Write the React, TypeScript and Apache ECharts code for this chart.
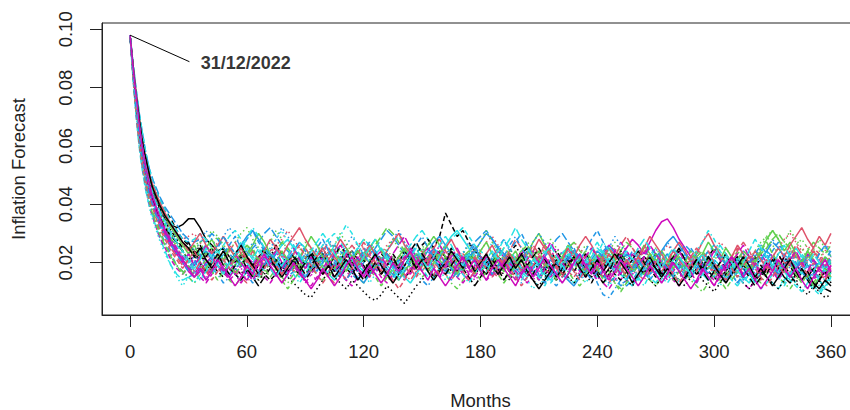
import React, { useEffect, useRef } from "react";
import * as echarts from "echarts";

// Forecast horizon (months) at which the paths are sampled
const months = [
  0, 1, 2, 3, 4, 5, 6, 7, 8, 9, 10, 11, 12,
  15, 18, 21, 24, 27, 30, 33, 36, 39, 42, 45, 48, 51, 54, 57, 60, 63, 66, 69, 72, 75, 78, 81, 84, 87, 90, 93, 96, 99,
  102, 105, 108, 111, 114, 117, 120, 123, 126, 129, 132, 135, 138, 141, 144, 147, 150, 153, 156, 159, 162, 165, 168, 171, 174, 177, 180, 183, 186,
  189, 192, 195, 198, 201, 204, 207, 210, 213, 216, 219, 222, 225, 228, 231, 234, 237, 240, 243, 246, 249, 252, 255, 258, 261, 264, 267, 270, 273,
  276, 279, 282, 285, 288, 291, 294, 297, 300, 303, 306, 309, 312, 315, 318, 321, 324, 327, 330, 333, 336, 339, 342, 345, 348, 351, 354, 357, 360,
];

const xTicks = [0, 60, 120, 180, 240, 300, 360];
const yTicks = [0.02, 0.04, 0.06, 0.08, 0.1];
const xTitle = "Months";
const yTitle = "Inflation Forecast";
const annotationLabel = "31/12/2022";
const annotationFrom = [0, 0.098];
const annotationTo = [30.5, 0.0889];
const annotationTextAt = [36, 0.0883];

// Simulated inflation paths, values in thousandths (0.001)
const path01 = [98,91,84,77,71,66,61,57,54,51,48,46,44,
  39,35,33,32,33,35,35,32,28,26,24,25,22,20,23,21,19,22,24,21,18,20,17,19,22,20,18,21,23,
  20,17,19,22,24,21,19,16,18,21,23,20,18,15,17,20,22,19,21,24,22,19,17,20,23,21,18,16,19,
  22,20,17,19,23,25,22,19,16,18,21,19,22,24,21,18,20,17,15,18,21,23,20,17,19,22,20,18,16,
  19,22,24,21,18,16,19,21,18,15,17,20,22,19,17,14,16,19,21,18,15,13,16,18,15,12,14,11,10];
const path02 = [98,90,82,75,69,63,58,54,50,47,44,42,40,
  35,31,28,25,22,20,21,23,19,17,20,22,25,23,20,18,16,19,21,24,26,23,21,19,17,20,18,22,24,
  27,24,21,19,22,20,17,15,18,20,23,21,19,22,25,22,20,18,16,19,21,18,20,23,21,24,22,19,17,
  15,18,20,22,19,17,20,23,26,24,21,19,17,15,18,21,19,22,20,18,21,24,22,19,17,20,18,16,19,
  21,24,22,19,17,20,23,21,18,16,19,22,25,23,20,18,21,19,17,20,22,24,21,19,22,25,23,20,22];
const path03 = [98,91,85,79,73,68,63,59,56,53,50,48,46,
  41,37,33,30,27,25,26,27,28,31,29,26,24,27,30,32,28,25,23,21,24,22,19,21,24,27,25,22,20,
  18,21,23,20,22,25,28,26,23,21,24,22,19,17,20,22,25,27,24,21,19,22,20,23,26,24,21,18,20,
  23,21,19,22,24,27,25,22,20,17,19,22,24,21,23,26,24,21,19,22,25,23,20,18,21,24,22,19,21,
  18,16,14,17,19,22,20,18,21,23,20,17,15,18,21,24,27,29,31,28,25,23,26,28,25,22,24,21,19];
const path04 = [98,89,81,73,66,60,55,51,47,44,41,38,36,
  31,27,23,19,17,15,16,19,21,18,16,13,15,18,20,17,15,18,21,23,20,18,15,17,19,22,24,21,19,
  17,20,22,19,16,14,17,19,22,20,17,15,18,21,19,16,14,12,15,18,20,22,19,17,20,23,21,18,16,
  19,21,18,15,13,15,18,20,17,14,12,15,17,20,23,21,18,13,9,8,11,14,12,14,17,19,16,18,21,
  23,20,18,16,19,22,20,17,15,18,21,19,16,14,17,20,22,19,17,15,13,16,19,21,18,16,19,22,20];
const path05 = [98,88,79,71,64,58,53,49,45,42,39,37,35,
  29,24,19,16,14,15,17,20,18,16,19,21,18,16,14,17,20,23,25,22,20,18,21,24,27,25,22,19,17,
  20,18,16,19,22,25,28,26,23,21,19,17,20,23,26,29,31,28,25,22,20,18,16,19,21,24,22,20,18,
  16,19,22,20,17,15,18,21,24,22,19,17,15,13,16,19,22,25,23,20,18,16,14,17,20,18,15,13,16,
  19,22,20,17,15,13,16,18,21,19,17,14,12,15,18,20,17,15,13,11,14,16,19,17,14,12,10,13,15];
const path06 = [98,90,82,75,69,64,59,55,51,48,45,43,41,
  35,30,26,23,20,17,15,17,20,22,19,17,15,18,16,14,17,19,22,20,18,16,19,21,18,15,17,20,22,
  19,17,20,23,21,18,16,19,22,24,21,19,17,15,18,20,23,25,22,20,18,21,19,16,14,17,20,22,19,
  17,20,23,21,18,16,19,22,20,17,15,18,21,24,22,19,17,20,23,26,24,22,25,28,26,23,27,31,34,
  35,32,28,25,22,20,18,21,19,17,20,22,19,16,18,21,23,20,18,16,19,21,18,20,23,21,18,16,19];
const path07 = [98,91,85,79,74,69,65,61,57,54,51,49,47,
  42,38,35,31,28,26,24,22,21,19,17,15,18,16,14,17,20,18,16,14,16,19,21,18,16,14,17,19,22,
  19,17,15,18,16,19,21,18,20,23,21,19,22,24,21,23,26,28,25,29,37,33,29,31,27,24,22,20,21,
  22,19,17,20,18,16,19,21,18,16,14,17,20,22,19,17,15,18,21,19,16,14,17,19,22,20,18,15,17,
  20,22,19,17,15,18,20,17,15,13,16,19,21,18,16,14,17,20,18,16,19,22,19,17,15,18,16,14,17];
const path08 = [98,90,83,77,71,66,62,58,55,52,49,47,45,
  40,36,33,30,28,29,30,27,22,24,27,29,26,23,21,24,22,19,21,23,26,28,31,28,25,23,21,24,26,
  23,21,19,22,24,27,25,22,20,23,26,28,30,27,24,22,20,18,21,23,25,22,20,17,19,22,24,27,29,
  26,23,21,19,22,24,21,19,17,20,23,21,24,27,25,22,20,18,21,23,20,18,16,19,21,24,22,20,23,
  26,24,21,19,22,20,18,21,24,27,25,22,20,23,21,19,17,20,22,25,28,30,27,24,26,23,21,24,27];
const path09 = [98,89,81,74,67,61,56,52,48,45,42,39,37,
  31,26,22,19,17,15,13,16,18,21,19,17,14,12,15,18,16,14,17,20,18,15,13,16,19,21,18,16,14,
  17,19,22,20,17,15,13,16,19,17,14,16,19,22,20,18,15,17,20,18,16,13,11,14,17,19,21,18,16,
  19,17,15,18,21,19,16,14,17,20,22,19,17,14,12,15,18,20,17,15,13,11,14,17,19,16,14,12,15,
  18,21,19,17,14,12,10,13,16,19,17,15,18,20,17,15,13,16,18,15,13,11,14,17,15,13,16,18,16];
const path10 = [98,92,86,80,75,70,66,62,58,55,52,50,48,
  43,39,36,33,30,28,27,28,27,30,28,25,23,21,19,22,25,27,30,32,29,26,24,22,20,23,21,18,20,
  23,26,24,21,19,17,20,23,25,28,31,29,26,23,21,19,22,24,21,19,17,20,23,21,24,27,29,31,28,
  25,23,20,18,21,24,22,19,22,25,28,30,27,24,22,20,18,21,24,26,23,21,19,17,20,22,25,23,20,
  18,21,23,26,24,21,19,22,20,17,15,18,21,24,22,19,21,24,27,25,22,20,18,21,23,20,18,21,24];
const path11 = [98,90,83,76,70,64,59,55,51,48,45,42,40,
  35,30,27,24,22,20,22,24,26,23,21,18,16,19,22,20,17,15,18,21,23,26,28,25,22,20,18,21,19,
  16,14,17,20,22,19,17,20,23,25,22,19,17,15,13,16,19,21,24,22,26,29,31,28,25,22,20,18,21,
  24,22,19,17,15,18,21,19,16,14,17,20,23,21,18,16,19,22,24,21,19,16,14,12,15,18,21,19,17,
  15,18,20,23,21,18,16,14,17,20,22,19,17,15,13,16,18,21,19,17,20,23,25,22,19,17,20,18,16];
const path12 = [98,89,80,72,65,59,54,50,46,43,40,37,35,
  29,25,21,18,16,18,17,15,13,16,19,17,14,16,19,22,20,17,15,13,16,18,21,19,16,14,12,15,18,
  21,19,16,14,12,15,17,20,18,15,13,16,19,22,20,17,19,22,25,23,20,18,15,13,16,19,17,14,16,
  19,22,20,17,15,13,16,19,21,18,16,19,22,20,17,15,18,16,13,11,14,17,20,18,15,17,20,22,19,
  17,14,12,15,18,21,19,16,14,17,20,18,15,13,11,14,17,19,22,20,17,15,18,21,19,16,14,17,15];
const path13 = [98,90,83,76,70,65,60,56,52,49,46,44,42,
  37,33,30,27,24,21,22,20,16,18,21,23,20,18,16,19,17,14,16,19,21,18,15,13,11,9,8,11,14,
  17,15,13,11,14,12,10,8,7,9,12,10,8,6,9,12,14,17,15,18,20,17,19,22,20,18,16,19,21,
  18,16,14,17,19,16,14,12,15,18,20,17,15,13,16,19,17,15,18,21,19,16,14,12,15,17,14,12,15,
  18,16,14,12,15,17,14,12,10,13,16,18,15,13,11,14,17,15,13,11,14,16,13,11,9,12,10,8,9];
const path14 = [98,91,84,78,72,67,62,58,54,51,48,46,44,
  39,35,32,29,27,25,23,24,23,20,18,16,19,17,15,13,16,19,21,18,20,23,21,19,17,15,18,20,17,
  15,13,16,19,21,24,22,20,18,16,19,21,18,16,14,17,19,22,20,18,16,14,17,20,22,25,23,20,18,
  21,19,17,15,18,20,23,21,18,16,19,21,24,22,19,17,20,18,15,13,16,19,21,18,16,14,17,19,22,
  20,18,16,19,21,24,22,19,17,15,18,20,23,21,18,16,14,17,19,22,20,17,15,18,21,24,22,19,21];
const path15 = [98,90,82,75,69,63,58,54,50,47,44,42,40,
  35,31,28,26,24,25,23,21,23,25,22,20,18,21,23,26,24,21,19,22,24,27,25,22,20,18,21,19,17,
  20,22,25,23,20,18,21,24,26,29,32,30,27,24,22,20,18,21,23,21,18,16,19,22,24,21,19,17,20,
  22,25,23,21,24,26,23,21,19,17,20,22,25,27,24,22,20,23,21,19,22,24,27,25,22,20,23,21,19,
  17,20,23,21,19,22,24,21,19,17,15,18,21,24,22,20,23,25,28,30,27,25,22,20,24,27,25,23,26];
const path16 = [98,91,83,76,70,65,60,56,52,49,46,43,41,
  36,31,27,24,21,18,19,22,24,21,19,17,20,23,26,29,31,28,25,23,21,19,22,20,17,15,18,21,23,
  20,18,16,19,17,15,13,16,19,21,18,16,14,17,20,23,21,24,27,29,26,23,21,19,22,24,27,30,28,
  25,23,21,18,16,19,17,15,18,21,19,16,14,12,15,18,21,24,22,19,17,20,23,21,18,16,19,22,24,
  27,29,26,23,21,19,17,20,18,16,14,17,20,18,16,19,21,24,22,19,17,15,18,21,19,17,15,18,20];
const path17 = [98,92,86,80,75,70,66,62,58,55,52,49,47,
  42,38,34,31,28,27,28,30,28,25,23,26,29,31,28,25,22,20,18,21,24,22,19,17,15,18,20,23,26,
  28,30,27,24,22,25,23,20,18,21,24,27,29,26,23,21,19,17,20,22,25,28,30,32,29,26,24,22,20,
  18,21,19,16,14,17,20,18,15,13,16,19,22,24,21,19,17,15,18,21,23,20,18,16,14,17,19,17,15,
  13,16,19,17,15,18,21,24,26,23,20,18,15,13,16,14,11,13,16,19,17,14,12,10,13,11,9,12,14];
const path18 = [98,89,82,75,68,62,57,53,49,46,43,41,39,
  34,30,26,23,21,23,21,19,22,24,21,19,17,20,18,16,14,17,20,22,25,23,20,18,21,19,16,14,17,
  19,22,20,17,15,18,21,23,20,18,21,19,16,14,17,19,22,20,18,15,17,20,22,19,17,14,16,19,21,
  24,22,19,21,18,16,14,17,20,22,25,23,20,18,16,19,21,18,16,14,17,15,13,16,19,21,18,16,19,
  21,18,16,14,17,19,22,20,17,15,13,16,18,21,19,16,18,21,23,20,18,16,19,17,15,18,21,19,17];
const path19 = [98,90,83,77,71,66,61,57,53,50,47,45,43,
  38,34,31,28,25,27,23,26,22,25,21,24,20,23,19,22,18,21,25,22,26,23,19,22,18,21,24,20,23,
  19,22,26,23,20,24,21,17,20,16,19,23,20,24,21,18,22,19,15,18,21,25,22,19,23,20,17,21,18,
  22,19,23,26,22,19,16,20,17,21,24,21,18,22,19,16,13,17,20,17,21,24,20,23,19,16,20,23,19,
  16,20,17,14,18,21,18,22,25,21,18,22,19,15,19,22,19,16,20,23,19,16,13,17,20,17,14,18,15];
const path20 = [98,89,81,74,68,62,57,53,49,46,43,41,39,
  33,29,25,22,19,21,17,20,16,19,23,20,24,27,23,20,24,21,18,22,19,16,20,17,21,25,22,18,21,
  25,22,19,23,26,23,27,24,20,17,21,18,22,19,16,20,24,21,25,28,24,21,18,22,19,16,20,23,20,
  17,21,24,28,25,22,26,23,19,22,18,15,19,22,19,23,20,17,21,25,22,26,29,25,22,19,23,20,17,
  20,24,21,18,22,25,22,19,16,20,23,20,24,27,24,20,17,21,18,15,19,22,26,23,20,24,21,18,22];
const path21 = [98,91,84,78,72,67,62,58,55,52,49,47,45,
  40,36,32,29,26,23,26,22,25,28,24,21,25,22,19,23,26,30,27,23,20,24,21,18,22,25,29,26,22,
  19,23,20,17,21,24,21,25,28,24,21,18,22,25,22,19,23,26,29,26,22,19,16,20,23,20,24,27,23,
  20,17,21,24,20,23,27,30,26,23,19,22,26,23,20,17,21,18,22,25,21,18,15,19,22,26,23,20,24,
  21,18,22,19,16,20,23,27,24,21,25,22,18,21,17,20,24,28,31,28,24,27,23,20,24,21,18,22,20];
const path22 = [98,90,82,75,69,63,58,54,50,47,44,42,40,
  34,30,27,24,21,18,21,17,14,17,20,23,26,29,25,28,31,27,24,20,23,19,16,19,22,18,21,25,28,
  24,21,18,21,24,20,23,26,22,19,15,18,21,17,20,23,19,22,25,21,18,14,17,20,23,26,22,19,22,
  25,28,24,27,30,26,22,19,22,18,15,18,22,25,21,24,28,31,27,23,20,17,20,24,21,17,14,17,20,
  23,19,22,18,15,18,21,24,20,17,20,16,13,16,19,22,25,21,24,27,23,20,16,19,22,19,23,26,22];
const path23 = [98,89,80,72,65,59,54,49,45,42,39,36,34,
  28,23,19,15,12,15,13,16,19,16,20,23,20,17,21,18,14,17,21,24,28,31,27,24,20,23,19,22,18,
  15,18,22,19,16,20,17,13,16,20,23,20,16,19,23,26,22,19,15,18,14,17,21,24,21,17,20,23,27,
  24,20,17,21,18,14,11,14,17,20,17,21,24,20,17,13,16,19,15,12,15,18,22,19,15,18,21,17,14,
  17,21,18,14,17,20,23,19,16,12,15,18,21,17,14,18,21,24,20,17,14,17,13,10,13,16,12,15,18];
const path24 = [98,91,83,77,71,65,60,56,52,49,46,43,41,
  36,32,28,25,22,19,16,19,15,18,21,17,20,16,13,16,19,22,18,21,24,20,17,14,17,13,16,19,22,
  18,15,18,14,17,20,23,19,16,20,17,13,16,19,16,20,23,19,22,26,23,20,17,20,16,19,22,18,15,
  18,21,17,20,24,21,17,14,18,15,18,21,25,22,18,21,17,14,17,20,24,27,24,21,25,22,18,21,17,
  14,17,20,16,19,22,18,15,12,15,18,21,17,20,23,20,16,19,15,18,22,19,16,20,17,14,17,20,16];
const path25 = [98,90,82,76,70,64,59,55,51,48,45,43,41,
  36,32,29,27,24,21,24,20,17,20,23,19,16,19,22,18,15,12,15,18,21,17,20,23,19,16,19,22,25,
  21,18,21,24,20,17,14,17,20,16,19,22,18,21,24,27,23,20,23,19,16,19,22,18,15,12,15,18,21,
  18,14,17,20,23,19,22,25,21,18,15,18,21,17,20,23,20,16,13,16,19,22,18,21,24,20,17,20,16,
  19,22,25,21,18,21,17,14,17,20,23,19,22,18,15,12,15,18,21,18,22,19,15,18,14,11,14,17,13];
const path26 = [98,91,85,79,73,68,63,59,56,53,50,48,46,
  41,37,33,30,27,24,27,30,26,23,26,29,25,22,25,21,18,21,24,28,25,22,26,29,32,28,25,22,25,
  21,24,28,25,22,19,22,26,23,20,24,27,30,26,23,20,17,20,24,21,25,28,24,21,18,22,19,23,26,
  22,19,23,20,17,21,24,28,25,22,18,21,25,22,26,29,26,22,19,23,20,17,21,18,22,25,29,26,23,
  20,24,27,24,20,23,27,30,26,23,19,22,26,23,20,24,21,18,22,25,22,26,29,32,28,25,29,26,30];
const path27 = [98,89,80,73,66,60,55,51,47,44,41,38,36,
  30,26,22,19,16,19,15,18,21,17,14,17,20,16,19,22,25,21,18,15,18,14,11,14,17,20,17,21,18,
  15,18,21,25,22,19,22,18,15,12,15,18,14,17,20,23,20,17,20,24,21,18,15,18,21,17,14,17,20,
  16,13,16,19,22,18,21,24,20,17,14,17,20,17,21,24,21,18,14,17,13,10,13,16,19,16,20,23,20,
  17,14,17,20,24,21,18,21,17,14,11,14,17,20,17,21,24,27,23,20,17,20,16,13,16,12,15,18,15];
const path28 = [98,90,83,77,71,66,61,57,53,50,47,45,43,
  38,34,31,28,30,27,24,27,31,28,25,29,32,29,26,23,27,24,21,25,28,32,29,26,22,19,23,20,24,
  28,25,22,26,29,26,23,20,17,21,24,28,31,27,24,21,25,22,18,22,25,22,19,23,27,24,21,18,22,
  25,22,19,16,20,23,27,30,27,23,20,24,21,17,14,17,21,18,22,25,29,26,23,20,23,19,16,20,23,
  27,24,20,17,21,24,20,23,26,22,19,16,19,23,20,17,21,24,28,25,21,18,22,19,16,20,23,26,23];
const path29 = [98,91,84,78,72,67,62,58,54,51,48,45,43,
  37,33,29,26,23,20,17,14,17,20,24,21,18,22,25,28,32,29,25,22,19,23,20,16,13,16,20,23,19,
  22,26,29,33,30,26,23,20,24,21,17,14,18,21,25,22,18,15,19,22,26,23,19,16,13,16,20,17,21,
  24,28,25,21,18,22,19,15,12,16,19,23,26,22,19,16,20,23,27,24,20,17,14,18,15,12,16,19,23,
  20,17,13,17,20,24,27,31,28,24,21,18,22,19,16,13,17,21,18,15,12,16,19,23,20,17,14,11,15];
const path30 = [98,90,82,76,70,64,59,55,51,48,45,42,40,
  34,30,26,23,20,23,19,22,26,22,19,16,19,23,20,17,14,17,21,18,15,18,22,25,21,18,22,19,16,
  19,23,26,23,19,22,18,15,18,22,19,23,26,29,25,22,19,22,18,15,19,22,25,21,18,15,18,22,19,
  16,20,17,14,17,21,24,20,23,27,23,20,17,21,18,22,25,22,18,15,19,16,20,23,19,22,26,23,20,
  17,21,24,20,17,13,17,20,24,21,17,20,23,26,22,19,16,20,17,14,18,21,24,20,17,21,18,15,19];
const path31 = [98,91,84,78,73,68,63,59,56,53,50,47,45,
  40,36,33,30,27,25,22,25,21,18,21,24,20,23,26,22,19,16,19,22,18,15,18,21,17,20,23,19,16,
  19,15,18,21,18,14,17,20,23,19,16,13,16,19,22,18,21,17,14,17,20,24,21,18,21,17,20,23,19,
  16,19,22,18,21,17,14,11,14,17,20,16,19,22,18,15,18,21,17,20,23,20,17,13,16,19,22,18,15,
  18,15,12,15,18,21,18,22,19,16,13,16,19,22,19,15,18,15,12,15,18,21,17,14,17,13,11,14,12];
const path32 = [98,89,81,74,67,61,56,52,48,45,42,40,38,
  32,28,24,21,18,21,24,20,17,14,17,21,18,22,25,21,18,15,18,22,19,16,19,23,26,22,19,16,13,
  16,20,17,14,18,21,25,22,18,21,17,14,11,14,18,15,19,22,19,16,20,23,20,17,14,17,21,18,15,
  19,22,18,15,12,15,19,22,26,23,19,16,20,17,14,18,21,18,22,25,22,19,15,18,22,19,16,20,23,
  19,16,13,16,20,17,21,24,20,17,14,18,15,19,22,18,15,12,15,19,16,20,23,19,16,20,17,14,18];
const path33 = [98,90,83,76,70,65,60,56,52,49,46,44,42,
  37,33,30,27,24,21,24,27,23,26,29,25,22,19,22,26,23,20,24,27,31,28,24,21,18,22,25,22,19,
  23,26,30,27,23,20,24,21,18,22,25,28,25,21,18,21,25,22,19,23,26,23,20,17,21,24,27,31,27,
  24,21,24,20,17,21,24,21,25,28,25,22,18,22,19,16,19,23,20,24,27,24,20,17,21,18,22,25,22,
  19,23,20,17,21,24,21,18,22,26,23,20,24,21,18,22,25,29,26,23,27,31,28,25,21,24,28,25,22];
const path34 = [98,89,81,74,68,62,57,53,49,46,43,41,39,
  33,29,26,23,20,17,20,23,19,22,25,29,26,23,19,16,13,16,19,23,20,17,20,24,27,24,20,17,21,
  24,20,17,14,17,21,24,27,24,20,23,19,16,19,22,26,29,25,22,18,21,18,15,18,21,25,22,19,16,
  19,22,26,29,25,22,19,16,13,16,20,17,21,24,20,17,14,17,16,13,15,12,14,18,21,18,22,25,21,
  18,15,18,21,25,22,19,16,20,23,19,16,13,16,20,23,26,23,19,16,19,23,20,17,14,17,21,18,22];
const path35 = [98,90,83,77,71,66,61,57,53,50,47,45,43,
  38,34,30,27,24,21,18,21,25,22,19,16,20,23,27,24,21,25,22,18,15,19,22,26,23,20,24,27,30,
  27,23,20,24,21,18,22,25,28,24,21,18,15,18,22,25,21,18,22,26,29,26,22,19,23,20,17,21,24,
  21,25,28,32,28,25,22,19,23,26,22,19,16,19,23,20,24,27,23,20,17,21,24,21,25,28,25,21,18,
  22,25,22,19,16,20,23,19,22,26,23,20,17,20,24,28,25,22,19,23,26,22,19,16,20,23,20,17,21];
const path36 = [98,91,84,78,72,66,61,57,53,50,47,44,42,
  36,31,27,24,21,18,15,18,14,17,21,18,15,12,15,19,16,20,23,19,16,13,16,20,17,14,11,14,18,
  15,12,15,19,22,18,15,19,16,13,16,20,17,21,24,20,17,14,18,15,12,15,19,22,18,21,17,14,18,
  21,18,15,12,16,19,15,18,22,19,16,13,16,20,23,19,16,20,17,14,17,21,18,15,12,15,19,16,13,
  16,20,17,14,11,14,18,15,12,16,19,22,19,15,18,14,11,14,17,21,18,15,18,14,11,15,18,21,17];

const paths = [
  path01, path02, path03, path04, path05, path06, path07, path08, path09,
  path10, path11, path12, path13, path14, path15, path16, path17, path18,
  path19, path20, path21, path22, path23, path24, path25, path26, path27,
  path28, path29, path30, path31, path32, path33, path34, path35, path36,
];

// R default palette and matplot line types (styles)
const palette = ["#000000", "#DF536B", "#61D04F", "#2297E6", "#28E2E5", "#CD0BBC"];
const dashes: any[] = ["solid", [5, 3], [1.5, 3], [1.5, 3, 5, 3], [8, 3]];

const FONT = "'Liberation Sans', Arial, Helvetica, sans-serif";

export default function App() {
  const ref = useRef<HTMLDivElement>(null);

  useEffect(() => {
    if (!ref.current) return;
    const chart = echarts.init(ref.current, null, { renderer: "svg" });

    const pathSeries = paths.map((p, k) => ({
      type: "line",
      name: "path" + (k + 1),
      data: months.map((m, i) => [m, p[i] / 1000]),
      showSymbol: false,
      symbol: "none",
      silent: true,
      lineStyle: { color: palette[k % palette.length], width: 1.5, type: dashes[k % dashes.length] },
      z: 2,
    }));

    chart.setOption({
      animation: false,
      textStyle: { fontFamily: FONT },
      grid: {
        left: 102,
        top: 23,
        right: -9,
        bottom: 95,
        show: true,
        borderColor: "#222",
        borderWidth: 1,
        backgroundColor: "transparent",
        containLabel: false,
        outerBoundsMode: "none",
      },
      xAxis: {
        type: "value",
        min: -14.4,
        max: 374.4,
        axisLine: { show: true, onZero: false, lineStyle: { color: "#222", width: 1 } },
        splitLine: { show: false },
        axisTick: { show: true, length: 12, lineStyle: { color: "#222" }, customValues: xTicks },
        axisLabel: {
          show: true,
          customValues: xTicks,
          margin: 27,
          fontSize: 18.5,
          color: "#222",
          fontFamily: FONT,
        },
        name: xTitle,
        nameLocation: "middle",
        nameGap: 76,
        nameTextStyle: { fontSize: 18.5, color: "#222", fontFamily: FONT },
      },
      yAxis: {
        type: "value",
        min: 0.00203,
        max: 0.10217,
        axisLine: { show: true, onZero: false, lineStyle: { color: "#222", width: 1 } },
        splitLine: { show: false },
        axisTick: { show: true, length: 12, lineStyle: { color: "#222" }, customValues: yTicks },
        axisLabel: {
          show: true,
          customValues: yTicks,
          rotate: 90,
          margin: 27,
          fontSize: 18.5,
          color: "#222",
          fontFamily: FONT,
          formatter: (v: number) => v.toFixed(2),
        },
        name: yTitle,
        nameLocation: "middle",
        nameGap: 74,
        nameTextStyle: { fontSize: 18.5, color: "#222", fontFamily: FONT },
      },
      series: [
        ...pathSeries,
        {
          type: "line",
          data: [annotationFrom, annotationTo],
          showSymbol: false,
          symbol: "none",
          silent: true,
          lineStyle: { color: "#000", width: 1, type: "solid" },
          z: 5,
        },
        {
          type: "scatter",
          data: [annotationTextAt],
          symbolSize: 1,
          silent: true,
          itemStyle: { color: "transparent" },
          label: {
            show: true,
            position: "right",
            distance: 0,
            formatter: annotationLabel,
            fontSize: 18,
            fontWeight: "bold",
            color: "#000",
            fontFamily: FONT,
          },
          z: 6,
        },
      ],
    });

    return () => chart.dispose();
  }, []);

  return (
    <div
      ref={ref}
      style={{ position: "fixed", left: 0, top: 0, width: 850, height: 410, background: "#fff" }}
    />
  );
}
